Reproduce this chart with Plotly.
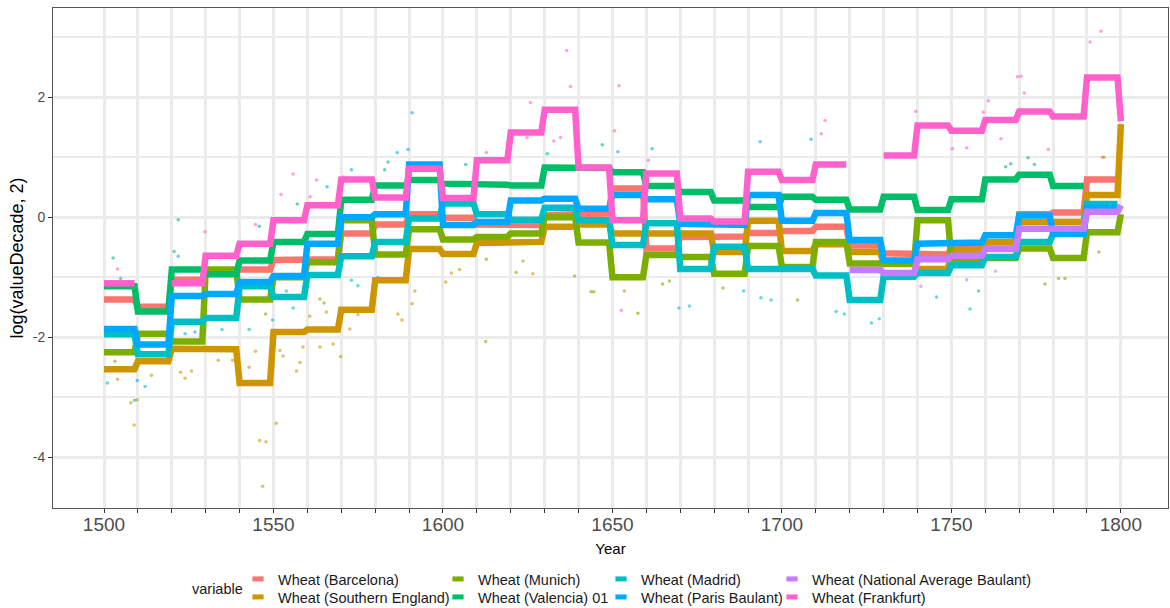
import plotly.graph_objects as go

# ---------------- data (decade means, log2 scale) ----------------
decades = [1500 + 10 * i for i in range(31)]   # 1500 ... 1800

barcelona = [-1.37, -1.49, -1.04, -0.92, -0.87, -0.71, -0.70, -0.27, -0.12, 0.05,
             -0.01, -0.12, -0.13, 0.04, 0.06, 0.48, -0.52, -0.33, -0.32, -0.26,
             -0.23, -0.16, -0.47, -0.60, -0.62, -0.50, -0.42, 0.05, 0.08, 0.63, None]
southern_england = [-2.53, -2.40, -2.19, -2.20, -2.76, -1.91, -1.87, -1.54, -1.05, -0.53,
                    -0.61, -0.43, -0.41, -0.16, -0.12, -0.27, -0.27, -0.27, -0.58, -0.06,
                    -0.56, -0.45, -0.58, -0.78, -0.86, -0.55, -0.41, -0.08, -0.08, 0.37, 1.55]
munich = [-2.25, -1.94, -2.07, -0.87, -1.37, -1.00, -0.75, -0.05, -0.62, -0.20,
          -0.37, -0.33, -0.27, 0.00, -0.42, -1.00, -0.63, -0.66, -0.94, -0.48,
          -0.83, -0.41, -0.77, -0.77, -0.05, -0.72, -0.68, -0.52, -0.68, -0.25, 0.05]
valencia = [-1.15, -1.57, -0.87, -0.95, -0.72, -0.41, -0.28, 0.29, 0.53, 0.62,
            0.56, 0.54, 0.53, 0.83, 0.82, 0.75, 0.52, 0.42, 0.28, 0.17,
            0.34, 0.29, 0.13, 0.34, 0.12, 0.30, 0.63, 0.71, 0.52, None, None]
madrid = [-1.95, -2.28, -1.74, -1.68, -1.15, -1.33, -0.96, -0.65, -0.41, -0.02,
          0.23, 0.05, -0.04, 0.16, -0.05, -0.46, -0.10, -0.86, -0.49, -0.86,
          -0.86, -0.97, -1.38, -0.99, -0.93, -0.80, -0.66, -0.41, -0.28, 0.22, None]
paris = [-1.86, -2.12, -1.31, -1.28, -1.08, -0.98, -0.44, 0.00, 0.05, 0.88,
         -0.13, -0.08, 0.28, 0.31, 0.14, 0.37, 0.30, -0.11, -0.13, 0.37,
         -0.06, 0.07, -0.38, -0.72, -0.44, -0.42, -0.30, 0.03, -0.27, 0.16, None]
national = [None] * 22 + [-0.88, -0.93, -0.70, -0.64, -0.53, -0.19, -0.19, 0.09, 0.20]
frankfurt = [-1.10, None, -1.10, -0.64, -0.44, -0.05, 0.20, 0.63, 0.33, 0.81,
             0.32, 0.95, 1.41, 1.79, 0.83, -0.05, 0.73, -0.02, -0.07, 0.76,
             0.62, 0.88, None, 1.03, 1.53, 1.44, 1.62, 1.76, 1.68, 2.33, 1.60]

barcelona_pts_year = [1651.9, 1650.6, 1794.5, 1612, 1655, 1703]
barcelona_pts_val = [2.19, 1.44, 1.00, -0.35, 0.75, -0.05]
southern_england_pts_year = [1508.9, 1507.9, 1509.8, 1550.8, 1545.9, 1547.8, 1546.8, 1504.0, 1514.0,
                             1522.6, 1523.9, 1525.8, 1533.7, 1537.9, 1542.8, 1544.7, 1590.9, 1586.7,
                             1587.9, 1572.5, 1569.8, 1567.6, 1563.7, 1558.7, 1552.8, 1557.8, 1556.8,
                             1551.9, 1565.6, 1560.7, 1574.9, 1591.7, 1600.8, 1602.5, 1604.9, 1653.5,
                             1626.5, 1623.6, 1795.0]
southern_england_pts_val = [-3.46, -3.09, -3.04, -3.43, -3.72, -3.74, -4.48, -2.70, -2.63,
                            -2.58, -2.68, -2.56, -2.38, -2.38, -2.50, -2.23, -1.44, -1.61,
                            -1.71, -1.86, -2.32, -2.11, -2.16, -2.16, -2.31, -2.42, -2.56,
                            -2.22, -1.58, -1.65, -1.62, -1.23, -1.08, -0.93, -0.87, -1.23,
                            -0.94, -0.73, 1.00]
munich_pts_year = [1503.2, 1547.7, 1564.9, 1563.7, 1612.8, 1657.5, 1643.7, 1644.5, 1621.6, 1664.8,
                   1666.8, 1638.8, 1704.6, 1682.6, 1777.6, 1781.6, 1783.5, 1793.5, 1612.6]
munich_pts_val = [-2.40, -1.61, -1.43, -1.36, -0.70, -1.60, -1.24, -1.24, -0.92, -1.11,
                  -1.06, -0.98, -1.38, -1.18, -1.11, -1.02, -1.02, -0.58, -2.07]
valencia_pts_year = [1502.7, 1504.9, 1521.9, 1520.7, 1545.8, 1583.8, 1582.8, 1557.0, 1606.7, 1647.0,
                     1630.8, 1772.6, 1767.5, 1766.0, 1774.5]
valencia_pts_val = [-0.68, -1.02, -0.04, -0.57, -0.15, 0.92, 0.79, 0.22, 0.88, 1.21,
                    1.06, 0.99, 0.89, 0.84, 0.88]
madrid_pts_year = [1501.0, 1512.1, 1509.0, 1542.8, 1534.8, 1555.8, 1553.8, 1549.7, 1580.8, 1573.0,
                   1574.9, 1669.6, 1672.7, 1716.0, 1718.4, 1726.4, 1728.7, 1693.8, 1696.8, 1688.7,
                   1755.5, 1758.0, 1745.6]
madrid_pts_val = [-2.76, -2.82, -3.05, -1.87, -1.87, -1.51, -1.23, -1.71, -1.00, -1.05,
                  -1.14, -1.51, -1.48, -1.57, -1.61, -1.76, -1.69, -1.34, -1.38, -1.23,
                  -1.53, -1.23, -1.33]
paris_pts_year = [1521.9, 1509.8, 1526.8, 1523.9, 1590.9, 1586.5, 1589.7, 1565.8, 1573.0, 1661.7,
                  1651.6, 1693.6, 1708.6]
paris_pts_val = [-0.65, -2.72, -1.91, -1.94, 1.74, 1.08, 1.13, 0.51, 0.79, 1.14,
                 1.09, 1.26, 1.30]
national_pts_year = [1754.5, 1741.0, 1763.0]
national_pts_val = [-1.04, -1.15, -0.90]
frankfurt_pts_year = [1504.0, 1529.8, 1544.7, 1570.7, 1562.7, 1555.8, 1552.2, 1560.8, 1612.8, 1637.6,
                      1625.8, 1632.7, 1634.7, 1624.8, 1660.6, 1652.6, 1712.7, 1711.6, 1739.5, 1769.5,
                      1770.5, 1771.5, 1760.9, 1759.4, 1754.5, 1750.3, 1778.6, 1764.6, 1794.1, 1790.9,
                      1636.5]
frankfurt_pts_val = [-0.86, -0.24, -0.12, 0.67, 0.62, 0.72, 0.38, 0.34, 1.08, 2.18,
                     1.91, 1.27, 1.33, 1.33, 0.95, -1.55, 1.61, 1.39, 1.76, 2.34,
                     2.35, 2.07, 1.94, 1.75, 1.16, 1.14, 1.13, 1.31, 3.10, 2.92,
                     2.78]

names = ["Wheat (Barcelona)", "Wheat (Southern England)", "Wheat (Munich)",
         "Wheat (Valencia) 01", "Wheat (Madrid)", "Wheat (Paris Baulant)",
         "Wheat (National Average Baulant)", "Wheat (Frankfurt)"]
series = [barcelona, southern_england, munich, valencia, madrid, paris, national, frankfurt]
pts = [(barcelona_pts_year, barcelona_pts_val),
       (southern_england_pts_year, southern_england_pts_val),
       (munich_pts_year, munich_pts_val),
       (valencia_pts_year, valencia_pts_val),
       (madrid_pts_year, madrid_pts_val),
       (paris_pts_year, paris_pts_val),
       (national_pts_year, national_pts_val),
       (frankfurt_pts_year, frankfurt_pts_val)]
x_tick_vals = decades
x_tick_text = [str(d) if d % 50 == 0 else "" for d in decades]
y_tick_vals = [-4, -2, 0, 2]
y_tick_text = ["-4", "-2", "0", "2"]

# ---------------- styles ----------------
colors = ["#F8766D", "#CD9600", "#7CAE00", "#00BE67", "#00BFC4", "#00A9FF", "#C77CFF", "#FF61CC"]
FONT = "Arial, Liberation Sans, sans-serif"
plot_l, plot_r, plot_t, plot_b = 53, 1168, 8, 508
col_left = [238, 438, 601, 772]       # legend column positions (px)
row_mid = [579, 597]                  # legend row centres (px)


def expand(vals):
    xs, ys = [], []
    for d, v in zip(decades, vals):
        last = d if d == 1800 else d + 9
        for yr in range(d, last + 1):
            xs.append(yr)
            ys.append(v)
    return xs, ys


def xp(px):
    return (px - plot_l) / (plot_r - plot_l)


def yp(py):
    return (plot_b - py) / (plot_b - plot_t)


fig = go.Figure()

for (px, py), c in zip(pts, colors):
    fig.add_trace(go.Scatter(x=px, y=py, mode="markers",
                             marker=dict(size=3.5, color=c, opacity=0.6),
                             showlegend=False, hoverinfo="skip"))

for vals, c, n in zip(series, colors, names):
    xs, ys = expand(vals)
    fig.add_trace(go.Scatter(x=xs, y=ys, mode="lines", name=n,
                             line=dict(color=c, width=6.5),
                             connectgaps=False, showlegend=False))

legend_layout = {}
for i, (c, n) in enumerate(zip(colors, names)):
    lid = "legend" if i == 0 else "legend%d" % (i + 1)
    col, row = i // 2, i % 2
    fig.add_trace(go.Scatter(x=[None], y=[None], mode="markers", name=n,
                             marker=dict(symbol="line-ew", size=8,
                                         line=dict(width=8, color=c)),
                             legend=lid, showlegend=True))
    legend_layout[lid] = dict(x=xp(col_left[col]), y=yp(row_mid[row]),
                              xanchor="left", yanchor="middle", orientation="v",
                              font=dict(family=FONT, size=14.5, color="#1A1A1A"),
                              bgcolor="rgba(0,0,0,0)", itemwidth=30)

fig.update_layout(
    width=1170, height=608,
    margin=dict(l=plot_l, r=1170 - plot_r, t=plot_t, b=608 - plot_b, autoexpand=False),
    paper_bgcolor="white", plot_bgcolor="white",
    font=dict(family=FONT),
    annotations=[dict(text="variable", xref="paper", yref="paper",
                      x=xp(245), y=yp(589), xanchor="right", yanchor="middle",
                      showarrow=False, font=dict(family=FONT, size=14.5, color="#1A1A1A"))],
    **legend_layout,
)

fig.update_xaxes(
    range=[1484.95, 1813.9],
    tickmode="array", tickvals=x_tick_vals, ticktext=x_tick_text,
    ticks="outside", ticklen=4, tickcolor="#333333", tickwidth=1,
    tickfont=dict(family=FONT, size=19, color="#4D4D4D"),
    ticklabelstandoff=-5,
    showgrid=True, gridcolor="#EBEBEB", gridwidth=3,
    showline=True, linecolor="#555555", linewidth=1, mirror=True,
    zeroline=False, automargin=False,
    title=dict(text="Year", font=dict(family=FONT, size=15, color="#000000"), standoff=9),
)
fig.update_yaxes(
    range=[-4.843, 3.486],
    tickmode="array", tickvals=y_tick_vals, ticktext=y_tick_text,
    ticks="outside", ticklen=4, tickcolor="#333333", tickwidth=1,
    tickfont=dict(family=FONT, size=14, color="#4D4D4D"),
    showgrid=True, gridcolor="#EBEBEB", gridwidth=3,
    minor=dict(dtick=1, tick0=1, showgrid=True, gridcolor="#EBEBEB", gridwidth=1.5, ticks=""),
    showline=True, linecolor="#555555", linewidth=1, mirror=True,
    zeroline=False, automargin=False,
    title=dict(text="log(valueDecade, 2)", font=dict(family=FONT, size=18, color="#000000"), standoff=4),
)

fig.write_html("out.html", config={"displayModeBar": False},
               post_script="document.body.style.margin='0px';")
